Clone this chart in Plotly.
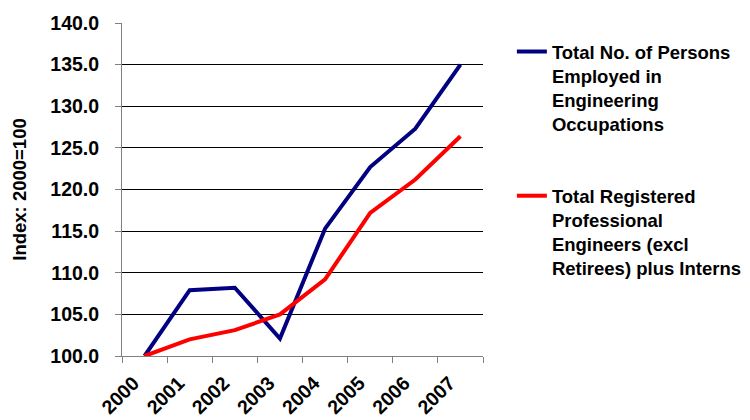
import plotly.graph_objects as go

# Index values (2000 = 100)
years = ["2000", "2001", "2002", "2003", "2004", "2005", "2006", "2007"]
employed_engineering = [100.0, 107.9, 108.2, 102.1, 115.3, 122.7, 127.3, 135.0]
registered_engineers = [100.0, 102.0, 103.1, 105.0, 109.2, 117.2, 121.2, 126.4]

series_names = [
    "Total No. of Persons<br>Employed in<br>Engineering<br>Occupations",
    "Total Registered<br>Professional<br>Engineers (excl<br>Retirees) plus Interns",
]
series_colors = ["#000080", "#FF0000"]

FAMILY = "Arial, Liberation Sans, sans-serif"
FONT = dict(family=FAMILY, size=19.5, color="#000000", weight="bold")

fig = go.Figure()
for i, (vals, name, color) in enumerate(
    zip([employed_engineering, registered_engineers], series_names, series_colors)
):
    fig.add_trace(
        go.Scatter(
            x=years,
            y=vals,
            mode="lines",
            name=name,
            legendgroup=f"g{i}",
            line=dict(color=color, width=4),
        )
    )

fig.update_layout(
    width=750,
    height=420,
    margin=dict(l=121.5, r=267, t=23, b=63.5, autoexpand=False),
    paper_bgcolor="white",
    plot_bgcolor="white",
    font=FONT,
    showlegend=True,
    legend=dict(
        x=1.08,
        xanchor="left",
        y=0.97,
        yanchor="top",
        valign="top",
        tracegroupgap=45,
        font=dict(family=FAMILY, size=18.5, color="#000000", weight="bold"),
        bgcolor="rgba(0,0,0,0)",
    ),
)

fig.update_xaxes(
    type="category",
    range=[-0.5, len(years) - 0.5],
    tickson="boundaries",
    ticks="outside",
    ticklen=6,
    tickcolor="#808080",
    tickangle=-45,
    ticklabelshift=-11,
    ticklabelstandoff=7,
    showgrid=False,
    showline=True,
    linecolor="#808080",
    linewidth=1,
    tickfont=FONT,
)

fig.update_yaxes(
    range=[100, 140],
    tickvals=[100, 105, 110, 115, 120, 125, 130, 135, 140],
    tickformat=".1f",
    ticks="outside",
    ticklen=6,
    tickcolor="#808080",
    ticklabelstandoff=12,
    showgrid=True,
    gridcolor="#000000",
    gridwidth=1,
    showline=True,
    linecolor="#808080",
    linewidth=1,
    zeroline=False,
    tickfont=FONT,
    title=dict(text="Index: 2000=100", font=dict(family=FAMILY, size=18.5, color="#000000", weight="bold"), standoff=18),
)

fig.write_html("out.html")
